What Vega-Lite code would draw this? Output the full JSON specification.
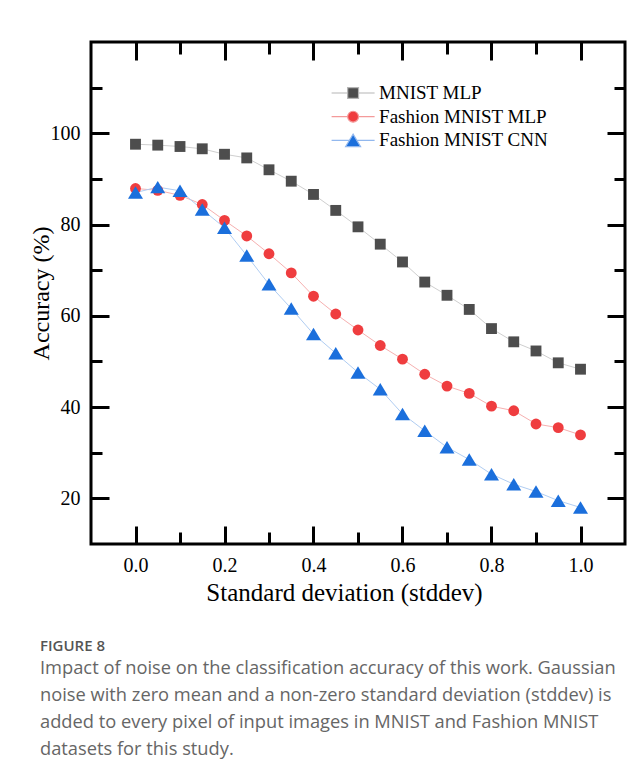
{
  "$schema": "https://vega.github.io/schema/vega-lite/v6.json",
  "width": 534,
  "height": 502,
  "autosize": {"type": "none"},
  "padding": {"left": 91, "top": 42, "right": 16, "bottom": 221},
  "background": "white",
  "config": {
    "view": {"stroke": "black", "strokeWidth": 3},
    "axis": {"grid": false, "domain": false}
  },
  "title": {
    "text": "FIGURE 8",
    "subtitle": [
      "Impact of noise on the classification accuracy of this work. Gaussian",
      "noise with zero mean and a non-zero standard deviation (stddev) is",
      "added to every pixel of input images in MNIST and Fashion MNIST",
      "datasets for this study."
    ],
    "orient": "bottom",
    "anchor": "start",
    "frame": "group",
    "dx": -51,
    "offset": 34,
    "font": "Open Sans",
    "fontSize": 15,
    "fontWeight": 600,
    "color": "#555555",
    "subtitleFont": "Open Sans",
    "subtitleFontSize": 18.3,
    "subtitleFontWeight": "normal",
    "subtitleColor": "#666666",
    "subtitleLineHeight": 27,
    "subtitlePadding": 6
  },
  "data": {
    "values": [
      {"s": 0.00, "series": "MNIST MLP", "acc": 97.6},
      {"s": 0.05, "series": "MNIST MLP", "acc": 97.4},
      {"s": 0.10, "series": "MNIST MLP", "acc": 97.1},
      {"s": 0.15, "series": "MNIST MLP", "acc": 96.6},
      {"s": 0.20, "series": "MNIST MLP", "acc": 95.4},
      {"s": 0.25, "series": "MNIST MLP", "acc": 94.6},
      {"s": 0.30, "series": "MNIST MLP", "acc": 92.0},
      {"s": 0.35, "series": "MNIST MLP", "acc": 89.5},
      {"s": 0.40, "series": "MNIST MLP", "acc": 86.6},
      {"s": 0.45, "series": "MNIST MLP", "acc": 83.1},
      {"s": 0.50, "series": "MNIST MLP", "acc": 79.5},
      {"s": 0.55, "series": "MNIST MLP", "acc": 75.7},
      {"s": 0.60, "series": "MNIST MLP", "acc": 71.8},
      {"s": 0.65, "series": "MNIST MLP", "acc": 67.4},
      {"s": 0.70, "series": "MNIST MLP", "acc": 64.5},
      {"s": 0.75, "series": "MNIST MLP", "acc": 61.4},
      {"s": 0.80, "series": "MNIST MLP", "acc": 57.2},
      {"s": 0.85, "series": "MNIST MLP", "acc": 54.3},
      {"s": 0.90, "series": "MNIST MLP", "acc": 52.3},
      {"s": 0.95, "series": "MNIST MLP", "acc": 49.7},
      {"s": 1.00, "series": "MNIST MLP", "acc": 48.3},
      {"s": 0.00, "series": "Fashion MNIST MLP", "acc": 87.9},
      {"s": 0.05, "series": "Fashion MNIST MLP", "acc": 87.5},
      {"s": 0.10, "series": "Fashion MNIST MLP", "acc": 86.4},
      {"s": 0.15, "series": "Fashion MNIST MLP", "acc": 84.4},
      {"s": 0.20, "series": "Fashion MNIST MLP", "acc": 80.9},
      {"s": 0.25, "series": "Fashion MNIST MLP", "acc": 77.5},
      {"s": 0.30, "series": "Fashion MNIST MLP", "acc": 73.6},
      {"s": 0.35, "series": "Fashion MNIST MLP", "acc": 69.4},
      {"s": 0.40, "series": "Fashion MNIST MLP", "acc": 64.3},
      {"s": 0.45, "series": "Fashion MNIST MLP", "acc": 60.4},
      {"s": 0.50, "series": "Fashion MNIST MLP", "acc": 56.9},
      {"s": 0.55, "series": "Fashion MNIST MLP", "acc": 53.5},
      {"s": 0.60, "series": "Fashion MNIST MLP", "acc": 50.5},
      {"s": 0.65, "series": "Fashion MNIST MLP", "acc": 47.2},
      {"s": 0.70, "series": "Fashion MNIST MLP", "acc": 44.6},
      {"s": 0.75, "series": "Fashion MNIST MLP", "acc": 43.0},
      {"s": 0.80, "series": "Fashion MNIST MLP", "acc": 40.2},
      {"s": 0.85, "series": "Fashion MNIST MLP", "acc": 39.2},
      {"s": 0.90, "series": "Fashion MNIST MLP", "acc": 36.3},
      {"s": 0.95, "series": "Fashion MNIST MLP", "acc": 35.5},
      {"s": 1.00, "series": "Fashion MNIST MLP", "acc": 33.9},
      {"s": 0.00, "series": "Fashion MNIST CNN", "acc": 87.0},
      {"s": 0.05, "series": "Fashion MNIST CNN", "acc": 88.2},
      {"s": 0.10, "series": "Fashion MNIST CNN", "acc": 87.4},
      {"s": 0.15, "series": "Fashion MNIST CNN", "acc": 83.3},
      {"s": 0.20, "series": "Fashion MNIST CNN", "acc": 79.3},
      {"s": 0.25, "series": "Fashion MNIST CNN", "acc": 73.2},
      {"s": 0.30, "series": "Fashion MNIST CNN", "acc": 66.9},
      {"s": 0.35, "series": "Fashion MNIST CNN", "acc": 61.6},
      {"s": 0.40, "series": "Fashion MNIST CNN", "acc": 56.0},
      {"s": 0.45, "series": "Fashion MNIST CNN", "acc": 51.8},
      {"s": 0.50, "series": "Fashion MNIST CNN", "acc": 47.6},
      {"s": 0.55, "series": "Fashion MNIST CNN", "acc": 43.9},
      {"s": 0.60, "series": "Fashion MNIST CNN", "acc": 38.5},
      {"s": 0.65, "series": "Fashion MNIST CNN", "acc": 34.8},
      {"s": 0.70, "series": "Fashion MNIST CNN", "acc": 31.2},
      {"s": 0.75, "series": "Fashion MNIST CNN", "acc": 28.5},
      {"s": 0.80, "series": "Fashion MNIST CNN", "acc": 25.3},
      {"s": 0.85, "series": "Fashion MNIST CNN", "acc": 23.1},
      {"s": 0.90, "series": "Fashion MNIST CNN", "acc": 21.5},
      {"s": 0.95, "series": "Fashion MNIST CNN", "acc": 19.5},
      {"s": 1.00, "series": "Fashion MNIST CNN", "acc": 18.0}
    ]
  },
  "resolve": {"axis": {"x": "independent", "y": "independent"}},
  "layer": [
    {
      "mark": {"type": "line", "strokeWidth": 1},
      "encoding": {
        "x": {
          "field": "s", "type": "quantitative",
          "scale": {"domain": [-0.1, 1.1], "nice": false, "zero": false},
          "axis": {
            "orient": "bottom",
            "values": [0, 0.2, 0.4, 0.6, 0.8, 1.0],
            "ticks": true, "tickSize": -18, "tickColor": "black", "tickWidth": 3,
            "format": ".1f",
            "labelOverlap": false, "labelFlush": false,
            "labelFont": "Liberation Serif", "labelFontSize": 20, "labelColor": "black",
            "labelBaseline": "alphabetic", "labelPadding": 45,
            "title": "Standard deviation (stddev)",
            "titleFont": "Liberation Serif", "titleFontSize": 25, "titleFontWeight": "normal", "titleColor": "black",
            "titleX": 253, "titleY": 56, "titleBaseline": "alphabetic", "titleAlign": "center"
          }
        },
        "y": {
          "field": "acc", "type": "quantitative",
          "scale": {"domain": [10, 120], "nice": false, "zero": false},
          "axis": {
            "orient": "left",
            "values": [20, 40, 60, 80, 100],
            "ticks": true, "tickSize": -18, "tickColor": "black", "tickWidth": 3,
            "labelOverlap": false, "labelFlush": false,
            "labelFont": "Liberation Serif", "labelFontSize": 20, "labelColor": "black",
            "labelPadding": 29,
            "title": "Accuracy (%)",
            "titleFont": "Liberation Serif", "titleFontSize": 24, "titleFontWeight": "normal", "titleColor": "black",
            "titleX": -43, "titleY": 251, "titleAngle": 270, "titleBaseline": "alphabetic", "titleAlign": "center"
          }
        },
        "stroke": {
          "condition": [
            {"test": "datum.series === 'MNIST MLP'", "value": "#cfcfcf"},
            {"test": "datum.series === 'Fashion MNIST MLP'", "value": "#f6b0b0"}
          ],
          "value": "#b0cdf2"
        },
        "detail": {"field": "series", "type": "nominal"}
      }
    },
    {
      "mark": {"type": "point", "filled": true, "opacity": 1, "size": 118},
      "encoding": {
        "x": {
          "field": "s", "type": "quantitative",
          "axis": {
            "orient": "top",
            "values": [0, 0.2, 0.4, 0.6, 0.8, 1.0],
            "ticks": true, "tickSize": -18, "tickColor": "black", "tickWidth": 3,
            "labels": false, "title": null
          }
        },
        "y": {
          "field": "acc", "type": "quantitative",
          "axis": {
            "orient": "right",
            "values": [20, 40, 60, 80, 100],
            "ticks": true, "tickSize": -18, "tickColor": "black", "tickWidth": 3,
            "labels": false, "title": null
          }
        },
        "fill": {
          "condition": [
            {"test": "datum.series === 'MNIST MLP'", "value": "#4d4d4d"},
            {"test": "datum.series === 'Fashion MNIST MLP'", "value": "#ef3d3f"}
          ],
          "value": "#1b6fdc"
        },
        "shape": {
          "condition": [
            {"test": "datum.series === 'MNIST MLP'", "value": "square"},
            {"test": "datum.series === 'Fashion MNIST MLP'", "value": "circle"}
          ],
          "value": "M0,-1.15L1.38,1.15L-1.38,1.15Z"
        }
      }
    },
    {
      "mark": {"type": "point", "filled": true, "opacity": 1, "size": 0},
      "encoding": {
        "x": {
          "field": "s", "type": "quantitative",
          "axis": {
            "orient": "bottom",
            "values": [0.1, 0.3, 0.5, 0.7, 0.9],
            "ticks": true, "tickSize": -12, "tickColor": "black", "tickWidth": 3,
            "labels": false, "title": null
          }
        },
        "y": {
          "field": "acc", "type": "quantitative",
          "axis": {
            "orient": "left",
            "values": [30, 50, 70, 90, 110],
            "ticks": true, "tickSize": -11, "tickColor": "black", "tickWidth": 3,
            "labels": false, "title": null
          }
        },
        "fill": {
          "field": "series", "type": "nominal",
          "scale": {"domain": ["MNIST MLP", "Fashion MNIST MLP", "Fashion MNIST CNN"], "range": ["#4d4d4d", "#ef3d3f", "#1b6fdc"]},
          "legend": {
            "orient": "none", "legendX": 252.6, "legendY": 41.5,
            "title": null, "padding": 0,
            "symbolSize": 118, "symbolStrokeWidth": 1.2, "symbolOpacity": 1,
            "labelFont": "Liberation Serif", "labelFontSize": 19, "labelColor": "black",
            "labelOffset": 16.5, "rowPadding": 3.7, "labelLimit": 400
          }
        },
        "stroke": {
          "field": "series", "type": "nominal",
          "scale": {"domain": ["MNIST MLP", "Fashion MNIST MLP", "Fashion MNIST CNN"], "range": ["#b5b5b5", "#f49a9a", "#92b8ee"]}
        },
        "shape": {
          "field": "series", "type": "nominal",
          "scale": {
            "domain": ["MNIST MLP", "Fashion MNIST MLP", "Fashion MNIST CNN"],
            "range": [
              "M-3.96,0H-1M1,0H3.96M-1,-1H1V1H-1Z",
              "M-3.96,0H-1M1,0H3.96M1,0A1,1,0,1,1,-1,0A1,1,0,1,1,1,0Z",
              "M-3.96,0H-0.69M0.69,0H3.96M0,-1.15L1.38,1.15L-1.38,1.15Z"
            ]
          }
        }
      }
    },
    {
      "mark": {"type": "point", "opacity": 0, "size": 0},
      "encoding": {
        "x": {
          "field": "s", "type": "quantitative",
          "axis": {
            "orient": "top",
            "values": [0.1, 0.3, 0.5, 0.7, 0.9],
            "ticks": true, "tickSize": -12, "tickColor": "black", "tickWidth": 3,
            "labels": false, "title": null
          }
        },
        "y": {
          "field": "acc", "type": "quantitative",
          "axis": {
            "orient": "right",
            "values": [30, 50, 70, 90, 110],
            "ticks": true, "tickSize": -11, "tickColor": "black", "tickWidth": 3,
            "labels": false, "title": null
          }
        }
      }
    }
  ]
}
